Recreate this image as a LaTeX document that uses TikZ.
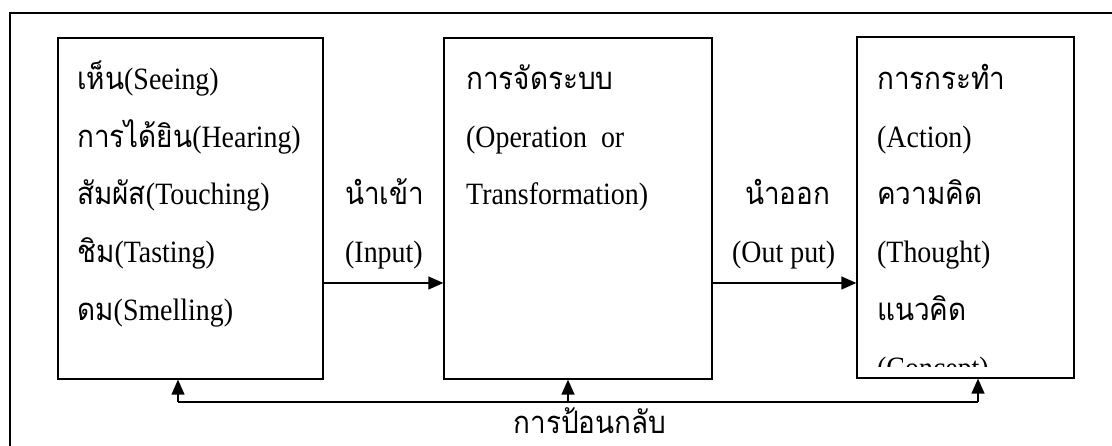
\documentclass[tikz,border=0pt]{standalone}
\usepackage{fontspec}
\setmainfont{Liberation Serif}[FakeStretch=0.9]
\newfontfamily\thaifont[Script=Thai,FakeStretch=0.9]{Loma}
\newcommand\tha[1]{{\thaifont #1}}
\usetikzlibrary{arrows.meta}
\begin{document}
\begin{tikzpicture}[x=1pt,y=1pt,
  box/.style={draw,line width=1.3pt,minimum width=#1,minimum height=341pt,inner sep=0pt},
  txt/.style={anchor=base west,inner sep=0pt,font=\fontsize{31}{36}\selectfont},
  arr/.style={line width=1.3pt,-{Triangle[length=15pt,width=13pt]}},
  fb/.style={line width=1.3pt}]
\useasboundingbox (0,0) rectangle (1112,446);
% outer frame (left and top edges visible)
\coordinate (fbl) at (10,0);
\coordinate (ftl) at (10,433);
\coordinate (ftr) at (1112,433);
\draw[line width=1.2pt] (fbl) -- (ftl) -- (ftr);
% boxes
\node[box=265pt] (b1) at (190.5,237.5) {};
\node[box=268pt] (b2) at (578,237.5) {};
\node[box=217pt] (b3) at (965.5,238.5) {};
% box 1 text
\node[txt] (s1) at (77,356) {\tha{เห็น}(Seeing)};
\node[txt] (s2) at (77,298) {\tha{การได้ยิน}(Hearing)};
\node[txt] (s3) at (77,241) {\tha{สัมผัส}(Touching)};
\node[txt] (s4) at (77,183) {\tha{ชิม}(Tasting)};
\node[txt] (s5) at (77,125) {\tha{ดม}(Smelling)};
% box 2 text
\node[txt] (o1) at (466,356) {\tha{การจัดระบบ}};
\node[txt] (o2) at (466,298) {(Operation\ \ or};
\node[txt] (o3) at (466,241) {Transformation)};
% box 3 text
\node[txt] (a1) at (877,356) {\tha{การกระทำ}};
\node[txt] (a2) at (877,298) {(Action)};
\node[txt] (a3) at (877,241) {\tha{ความคิด}};
\node[txt] (a4) at (877,183) {(Thought)};
\node[txt] (a5) at (877,125) {\tha{แนวคิด}};
\begin{scope}
\clip (860,79) rectangle (1070,100);
\node[txt] (a6) at (877,67) {(Concept)};
\end{scope}
% input / output
\coordinate (iy) at (0,163);
\draw[arr] (b1.east |- iy) -- (b2.west |- iy);
\draw[arr] (b2.east |- iy) -- (b3.west |- iy);
\node[txt] (in1) at (345,241) {\tha{นำเข้า}};
\node[txt] (in2) at (345,183) {(Input)};
\node[txt] (ou1) at (745,241) {\tha{นำออก}};
\node[txt] (ou2) at (732,183) {(Out put)};
% feedback
\coordinate (f1) at (178,44);
\coordinate (f2) at (568,44);
\coordinate (f3) at (978,44);
\draw[fb] (f1) -- (f3);
\draw[arr] (f1) -- (b1.south -| f1);
\draw[arr] (f2) -- (b2.south -| f2);
\draw[arr] (f3) -- (b3.south -| f3);
\node[anchor=base,inner sep=0pt,font=\fontsize{31}{36}\selectfont] (fbt) at (590,12) {\tha{การป้อนกลับ}};
\end{tikzpicture}
\end{document}
